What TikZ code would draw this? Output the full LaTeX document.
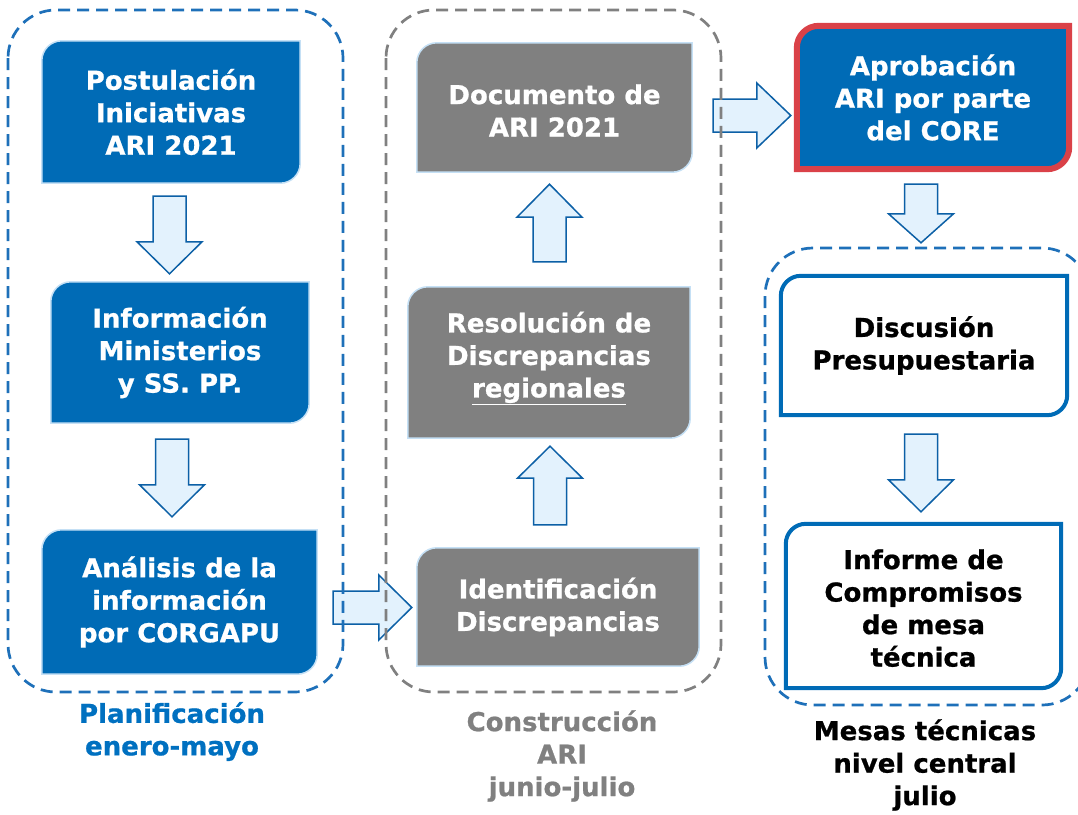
\documentclass[tikz,border=0pt]{standalone}
\usepackage{fontspec}
\setmainfont{DejaVu Sans}[BoldFeatures={FakeBold=0.8}]
\usetikzlibrary{calc,backgrounds}
\definecolor{boxblue}{RGB}{0,107,182}
\definecolor{edgeblue}{RGB}{197,224,245}
\definecolor{arrfill}{RGB}{227,242,253}
\definecolor{arredge}{RGB}{12,96,166}
\definecolor{dashblue}{RGB}{30,112,185}
\definecolor{boxgray}{RGB}{128,128,128}
\definecolor{dashgray}{RGB}{128,128,128}
\definecolor{corered}{RGB}{218,65,72}
\definecolor{lblblue}{RGB}{0,112,192}
\newcommand\diagpath[2]{([yshift=-#2]#1.north west) arc[start angle=180,end angle=90,radius=#2] -- (#1.north east) -- ([yshift=#2]#1.south east) arc[start angle=0,end angle=-90,radius=#2] -- (#1.south west) -- cycle}
\newcommand\blkdown[3]{\draw[blockarr] ($(#1)+(-16.5,0)$) -- ($(#1)+(16.5,0)$) -- ($(#2)+(16.5,-#3)$) -- ($(#2)+(32.5,-#3)$) -- (#2) -- ($(#2)+(-32.5,-#3)$) -- ($(#2)+(-16.5,-#3)$) -- cycle;}
\newcommand\blkup[3]{\draw[blockarr] ($(#1)+(-16.5,0)$) -- ($(#1)+(16.5,0)$) -- ($(#2)+(16.5,#3)$) -- ($(#2)+(32.5,#3)$) -- (#2) -- ($(#2)+(-32.5,#3)$) -- ($(#2)+(-16.5,#3)$) -- cycle;}
\newcommand\blkright[3]{\draw[blockarr] ($(#1)+(0,-16.5)$) -- ($(#1)+(0,16.5)$) -- ($(#2)+(-#3,16.5)$) -- ($(#2)+(-#3,32.5)$) -- (#2) -- ($(#2)+(-#3,-32.5)$) -- ($(#2)+(-#3,-16.5)$) -- cycle;}
\begin{document}
\begin{tikzpicture}[x=1pt,y=-1pt,
  every node/.style={font=\fontsize{26}{32.5}\selectfont\bfseries, align=center, inner sep=0pt},
  wtext/.style={text=white},
  btext/.style={text=black},
  bluefill/.style={fill=boxblue, draw=edgeblue, line width=1.5pt},
  grayfill/.style={fill=boxgray, draw=edgeblue, line width=1.5pt},
  redframe/.style={fill=boxblue, draw=corered, line width=6pt},
  whiteframe/.style={fill=white, draw=boxblue, line width=4pt},
  blockarr/.style={fill=arrfill, draw=arredge, line width=1.5pt, line join=miter},
  dashbox/.style={line width=2.7pt, dash pattern=on 12pt off 7pt, rounded corners=48pt},
]
\useasboundingbox (0,0) rectangle (1078,814);
\clip (0,0) rectangle (1078,814);
% left column
\node[wtext, minimum width=258pt, minimum height=142pt] (b1) at (171,112) {Postulación\\Iniciativas\\ARI 2021};
\node[wtext, minimum width=258pt, minimum height=141pt] (b2) at (180,352.5) {Información\\Ministerios\\y SS. PP.};
\node[wtext, minimum width=275pt, minimum height=144pt] (b3) at (179.5,602) {Análisis de la\\información\\por CORGAPU};
% middle column
\node[wtext, minimum width=275pt, minimum height=129pt] (d) at (554.5,107.5) {\rule{0pt}{26pt}Documento de\\ARI 2021};
\node[wtext, minimum width=282pt, minimum height=151pt] (r) at (549,362.5) {Resolución de\\Discrepancias\\\underline{regionales}\rule[-16pt]{0pt}{0pt}};
\node[wtext, minimum width=282pt, minimum height=118pt] (i) at (558,607) {Identificación\\Discrepancias};
% right column
\node[wtext, minimum width=272pt, minimum height=143pt] (ap) at (933,97.5) {Aprobación\\ARI por parte\\del CORE};
\node[btext, minimum width=286pt, minimum height=139pt] (disc) at (924,345.5) {Discusión\\Presupuestaria};
\node[btext, minimum width=275pt, minimum height=164pt] (inf) at (923.5,606) {\rule{0pt}{24pt}Informe de\\Compromisos\\de mesa\\técnica};
\begin{pgfonlayer}{background}
\path[bluefill] \diagpath{b1}{20pt};
\path[bluefill] \diagpath{b2}{20pt};
\path[bluefill] \diagpath{b3}{20pt};
\path[grayfill] \diagpath{d}{20pt};
\path[grayfill] \diagpath{r}{20pt};
\path[grayfill] \diagpath{i}{20pt};
\path[redframe] \diagpath{ap}{22pt};
\path[whiteframe] \diagpath{disc}{20pt};
\path[whiteframe] \diagpath{inf}{20pt};
\end{pgfonlayer}
% arrows
\coordinate (a1s) at ($(b1.south)+(-1.5,13)$);
\coordinate (a1t) at ($(a1s |- b2.north)+(0,-8)$);
\coordinate (a2s) at ($(b2.south)+(-8,16)$);
\coordinate (a2t) at ($(a2s |- b3.north)+(0,-13)$);
\coordinate (a3s) at ($(b3.east)+(16,5.5)$);
\coordinate (a3t) at ($(i.west |- a3s)+(-5,0)$);
\coordinate (a4s) at ($(i.north)+(-8,-23)$);
\coordinate (a4t) at ($(a4s |- r.south)+(0,8)$);
\coordinate (a5s) at ($(r.north)+(0.5,-25)$);
\coordinate (a5t) at ($(a5s |- d.south)+(0,12)$);
\coordinate (a6s) at ($(d.east)+(21,8)$);
\coordinate (a6t) at ($(ap.west |- a6s)+(-6,0)$);
\coordinate (a7s) at ($(ap.south)+(-12,15)$);
\coordinate (a7t) at ($(a7s |- disc.north)+(0,-33)$);
\coordinate (a8s) at ($(disc.south)+(-3,19)$);
\coordinate (a8t) at ($(a8s |- inf.north)+(0,-12)$);
\blkdown{a1s}{a1t}{32}
\blkdown{a2s}{a2t}{32}
\blkright{a3s}{a3t}{33}
\blkup{a4s}{a4t}{32}
\blkup{a5s}{a5t}{33}
\blkright{a6s}{a6t}{34}
\blkdown{a7s}{a7t}{29}
\blkdown{a8s}{a8t}{32}
% containers
\draw[dashbox, draw=dashblue] (8,10) rectangle (343,692);
\draw[dashbox, draw=dashgray] (386,10) rectangle (721,692);
\draw[dashbox, draw=dashblue] (765,248) rectangle (1090,705);
% labels
\node[text=lblblue] (lp) at (172,731.5) {Planificación\\enero-mayo};
\node[text=boxgray] (lc) at (562,756) {Construcción\\ARI\\junio-julio};
\node[text=black] (lm) at (925,765) {Mesas técnicas\\nivel central\\julio};
\end{tikzpicture}
\end{document}
